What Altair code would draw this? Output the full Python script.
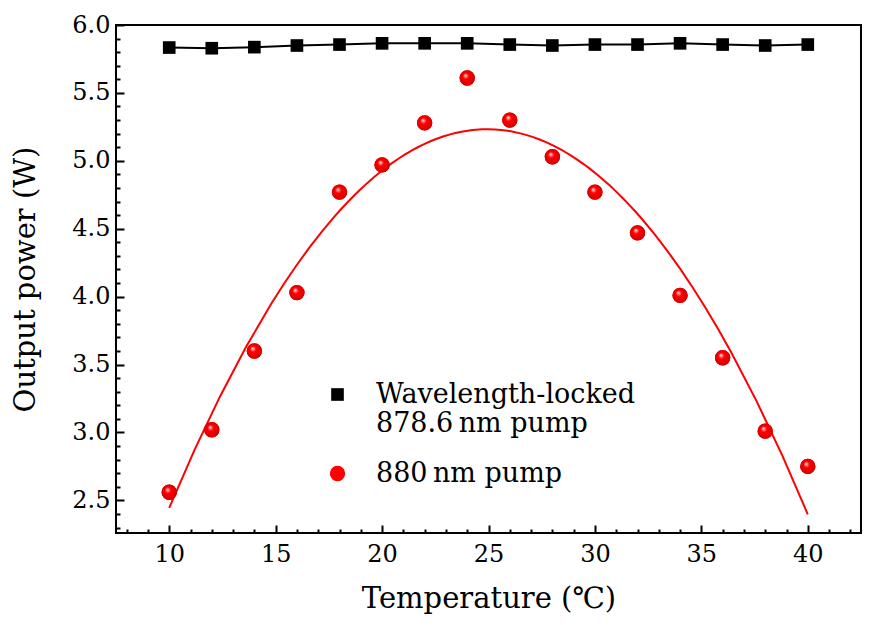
import altair as alt
import pandas as pd

# ---- data ----
temps = [10, 12, 14, 16, 18, 20, 22, 24, 26, 28, 30, 32, 34, 36, 38, 40]
locked = [5.834, 5.829, 5.837, 5.849, 5.856, 5.865, 5.865, 5.865,
          5.856, 5.849, 5.856, 5.856, 5.865, 5.856, 5.849, 5.856]
pump880 = [2.56, 3.02, 3.60, 4.03, 4.77, 4.97, 5.28, 5.61,
           5.30, 5.03, 4.77, 4.47, 4.01, 3.55, 3.01, 2.75]
# legend labels: '|' marks a line break
series_names = ["Wavelength-locked|878.6\u2009nm pump", "880\u2009nm pump"]
series_colors = ["black", "red"]
series_shapes = ["square", "circle"]
series_sizes = [160, 235]

x_ticks = list(range(8, 43))                       # minor every 1, major every 5
y_ticks = [round(2.3 + 0.1 * i, 1) for i in range(38)]  # minor every 0.1, major every 0.5

rows = []
for t, a, b in zip(temps, locked, pump880):
    rows.append({"T": t, "P": a, "series": series_names[0]})
    rows.append({"T": t, "P": b, "series": series_names[1]})
df = pd.DataFrame(rows)

FONT = "DejaVu Serif"

x_axis = alt.Axis(
    values=x_ticks,
    labelExpr="datum.value % 5 == 0 ? datum.label : ''",
    tickSize=alt.ExprRef(expr="datum.value % 5 == 0 ? -8 : -4"),
    tickWidth=2, tickColor="black", domain=False, grid=False,
    labelFont=FONT, labelFontSize=24, labelColor="black", labelPadding=17,
    labelOverlap=False, labelFlush=False,
    titleFont=FONT, titleFontSize=29, titleFontWeight="normal", titleColor="black",
    titlePadding=14,
)
y_axis = alt.Axis(
    values=y_ticks,
    labelExpr="abs(datum.value * 2 - round(datum.value * 2)) < 0.001 ? format(datum.value, '.1f') : ''",
    tickSize=alt.ExprRef(expr="abs(datum.value * 2 - round(datum.value * 2)) < 0.001 ? -8 : -4"),
    tickWidth=2, tickColor="black", domain=False, grid=False,
    labelFont=FONT, labelFontSize=24, labelColor="black", labelPadding=14,
    labelOverlap=False, labelFlush=False,
    titleFont=FONT, titleFontSize=29, titleFontWeight="normal", titleColor="black",
    titlePadding=31,
)

x_enc = alt.X("T:Q", scale=alt.Scale(domain=[7.5, 42.5], nice=False, zero=False),
              axis=x_axis, title="Temperature (\u2103)")
y_enc = alt.Y("P:Q", scale=alt.Scale(domain=[2.26, 6.0], nice=False, zero=False),
              axis=y_axis, title="Output power (W)")

base = alt.Chart(df)

locked_line = base.transform_filter(
    alt.datum.series == series_names[0]
).mark_line(color="black", strokeWidth=2).encode(x=x_enc, y=y_enc)

fit_line = base.transform_filter(
    alt.datum.series == series_names[1]
).transform_regression(
    "T", "P", method="poly", order=2, extent=[10, 40]
).mark_line(color="red", strokeWidth=2).encode(x=x_enc, y=y_enc)

points = base.mark_point(filled=True, opacity=1, strokeWidth=0).encode(
    x=x_enc, y=y_enc,
    color=alt.Color("series:N", scale=alt.Scale(domain=series_names, range=series_colors),
                    legend=alt.Legend(
                        title=None, orient="none", legendX=208, legendY=356,
                        labelExpr="split(datum.label, '|')",
                        labelFont=FONT, labelFontSize=27, labelColor="black",
                        labelBaseline="middle", labelLimit=400,
                        symbolSize=150, symbolStrokeWidth=0, symbolOffset=0,
                        labelOffset=25, rowPadding=22, padding=0,
                    )),
    shape=alt.Shape("series:N", scale=alt.Scale(domain=series_names, range=series_shapes)),
    size=alt.Size("series:N", scale=alt.Scale(domain=series_names, range=series_sizes), legend=None),
)

sphere = {
    "gradient": "radial",
    "x1": 0.38, "y1": 0.32, "r1": 0.0,
    "x2": 0.5, "y2": 0.5, "r2": 0.55,
    "stops": [
        {"offset": 0.0, "color": "#ffffff"},
        {"offset": 0.12, "color": "#ff9a9a"},
        {"offset": 0.35, "color": "#ff0000"},
        {"offset": 0.8, "color": "#e00000"},
        {"offset": 1.0, "color": "#b00000"},
    ],
}
spheres = base.transform_filter(
    alt.datum.series == series_names[1]
).mark_point(shape="circle", filled=True, size=235, fill=sphere, opacity=1, strokeWidth=0).encode(
    x=x_enc, y=y_enc
)

chart = alt.layer(locked_line, fit_line, points, spheres).properties(
    width=745, height=508,
    autosize=alt.AutoSizeParams(type="none"),
    padding={"left": 116, "top": 25, "right": 10, "bottom": 92},
    background="white",
).configure_view(stroke="black", strokeWidth=2)

chart.save("out.html", embed_options={"renderer": "svg", "actions": False})
